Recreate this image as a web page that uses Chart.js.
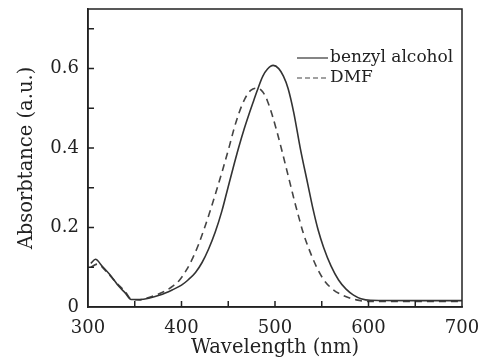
<!DOCTYPE html>
<html>
<head>
<meta charset="utf-8">
<script src="https://cdn.jsdelivr.net/npm/chart.js@4.4.1/dist/chart.umd.min.js"></script>
<style>
  html, body { margin: 0; padding: 0; background: #fff; }
  #wrap { width: 483px; height: 362px; }
</style>
</head>
<body>
<div id="wrap"><canvas id="absChart" width="483" height="362"></canvas></div>
<script>
// values
const benzylWl  = [303, 308, 315, 325, 333, 340, 346, 355, 365, 377, 390, 400, 407, 415, 422, 429, 436, 443, 449, 455, 461, 467, 472, 477, 481, 487, 492, 498, 504, 509, 514, 520, 527, 535, 541, 546, 552, 560, 568, 576, 584, 592, 602, 650, 700];
const benzylAbs = [0.110, 0.120, 0.103, 0.077, 0.052, 0.035, 0.019, 0.019, 0.022, 0.030, 0.043, 0.055, 0.068, 0.087, 0.112, 0.146, 0.188, 0.240, 0.294, 0.348, 0.400, 0.448, 0.484, 0.518, 0.545, 0.581, 0.599, 0.608, 0.600, 0.581, 0.550, 0.490, 0.400, 0.310, 0.243, 0.195, 0.150, 0.103, 0.068, 0.045, 0.030, 0.021, 0.017, 0.016, 0.016];

const dmfWl  = [303, 310, 320, 330, 340, 346, 355, 365, 375, 384, 391, 398, 405, 412, 418, 424, 430, 437, 444, 451, 456, 461, 468, 474, 481, 487, 492, 497, 502, 507, 512, 517, 521, 525, 530, 536, 544, 552, 562, 573, 587, 600, 650, 700];
const dmfAbs = [0.100, 0.108, 0.088, 0.062, 0.038, 0.020, 0.018, 0.024, 0.032, 0.042, 0.053, 0.068, 0.092, 0.123, 0.156, 0.195, 0.237, 0.290, 0.345, 0.403, 0.447, 0.485, 0.525, 0.545, 0.551, 0.541, 0.518, 0.483, 0.442, 0.397, 0.350, 0.303, 0.265, 0.230, 0.188, 0.148, 0.103, 0.069, 0.044, 0.029, 0.018, 0.014, 0.014, 0.014];

const seriesNames = ['benzyl alcohol', 'DMF'];
const xTicks = { min: 300, max: 700, step: 100 };
const yTicks = { min: 0, max: 0.75, step: 0.2 };

const serif = 'DejaVu Serif';
const ink = '#222';

function toPoints(xs, ys) {
    return xs.map((x, i) => ({ x: x, y: ys[i] }));
}

// inward tick marks (major + minor) and the closed frame
const framePlugin = {
    id: 'frame',
    afterDraw(chart) {
        const c = chart.ctx;
        const a = chart.chartArea;
        const xs = chart.scales.x;
        const ys = chart.scales.y;
        const len = 6;
        c.save();
        c.strokeStyle = ink;
        c.lineWidth = 1.5;
        c.strokeRect(a.left, a.top, a.right - a.left, a.bottom - a.top);
        c.beginPath();
        for (let v = xTicks.min + xTicks.step / 2; v < xTicks.max; v += xTicks.step / 2) {
            const px = xs.getPixelForValue(v);
            c.moveTo(px, a.bottom);
            c.lineTo(px, a.bottom - len);
        }
        for (let v = yTicks.min + yTicks.step / 2; v < yTicks.max; v += yTicks.step / 2) {
            const py = ys.getPixelForValue(v);
            c.moveTo(a.left, py);
            c.lineTo(a.left + len, py);
        }
        c.stroke();
        c.restore();
    }
};

// legend in the upper right corner of the plot
const legendPlugin = {
    id: 'innerLegend',
    afterDatasetsDraw(chart) {
        const c = chart.ctx;
        const a = chart.chartArea;
        const x0 = a.right - 165;
        const rows = [a.top + 49, a.top + 69];
        c.save();
        c.font = '17px "' + serif + '"';
        c.fillStyle = ink;
        c.textBaseline = 'middle';
        chart.data.datasets.forEach((ds, i) => {
            const y = rows[i];
            c.strokeStyle = ds.borderColor;
            c.lineWidth = 1.2;
            c.setLineDash(i === 0 ? [] : [5, 3]);
            c.beginPath();
            c.moveTo(x0, y);
            c.lineTo(x0 + 31, y);
            c.stroke();
            c.fillText(ds.label, x0 + 33, y);
        });
        c.restore();
    }
};

new Chart(document.getElementById('absChart'), {
    type: 'line',
    data: {
        datasets: [
            {
                label: seriesNames[0],
                data: toPoints(benzylWl, benzylAbs),
                borderColor: '#333',
                borderWidth: 1.6,
                pointRadius: 0,
                cubicInterpolationMode: 'monotone',
                fill: false
            },
            {
                label: seriesNames[1],
                data: toPoints(dmfWl, dmfAbs),
                borderColor: '#444',
                borderWidth: 1.6,
                borderDash: [7, 5],
                pointRadius: 0,
                cubicInterpolationMode: 'monotone',
                fill: false
            }
        ]
    },
    options: {
        responsive: false,
        animation: false,
        layout: { padding: { top: 9, right: 21, left: 0, bottom: 0 } },
        plugins: {
            legend: { display: false },
            tooltip: { enabled: false }
        },
        scales: {
            x: {
                type: 'linear',
                min: xTicks.min,
                max: xTicks.max,
                afterFit: s => { s.height = 55; s.paddingRight = 0; s.paddingLeft = 0; },
                grid: { display: false, drawTicks: false, tickLength: 0 },
                border: { display: true, color: ink, width: 1.5 },
                ticks: {
                    stepSize: xTicks.step,
                    padding: 11,
                    color: ink,
                    maxRotation: 0,
                    font: { family: serif, size: 18 }
                },
                title: {
                    display: true,
                    text: 'Wavelength (nm)',
                    color: ink,
                    padding: { top: 0, bottom: 2 },
                    font: { family: serif, size: 19.5 }
                }
            },
            y: {
                min: yTicks.min,
                max: yTicks.max,
                afterFit: s => { s.width = 88; s.paddingTop = 0; s.paddingBottom = 0; },
                grid: { display: false, drawTicks: false, tickLength: 0 },
                border: { display: true, color: ink, width: 1.5 },
                ticks: {
                    stepSize: yTicks.step,
                    includeBounds: false,
                    padding: 9,
                    color: ink,
                    font: { family: serif, size: 18 }
                },
                title: {
                    display: true,
                    text: 'Absorbtance (a.u.)',
                    color: ink,
                    padding: { top: 15, bottom: 0 },
                    font: { family: serif, size: 19.5 }
                }
            }
        }
    },
    plugins: [framePlugin, legendPlugin]
});
</script>
</body>
</html>
